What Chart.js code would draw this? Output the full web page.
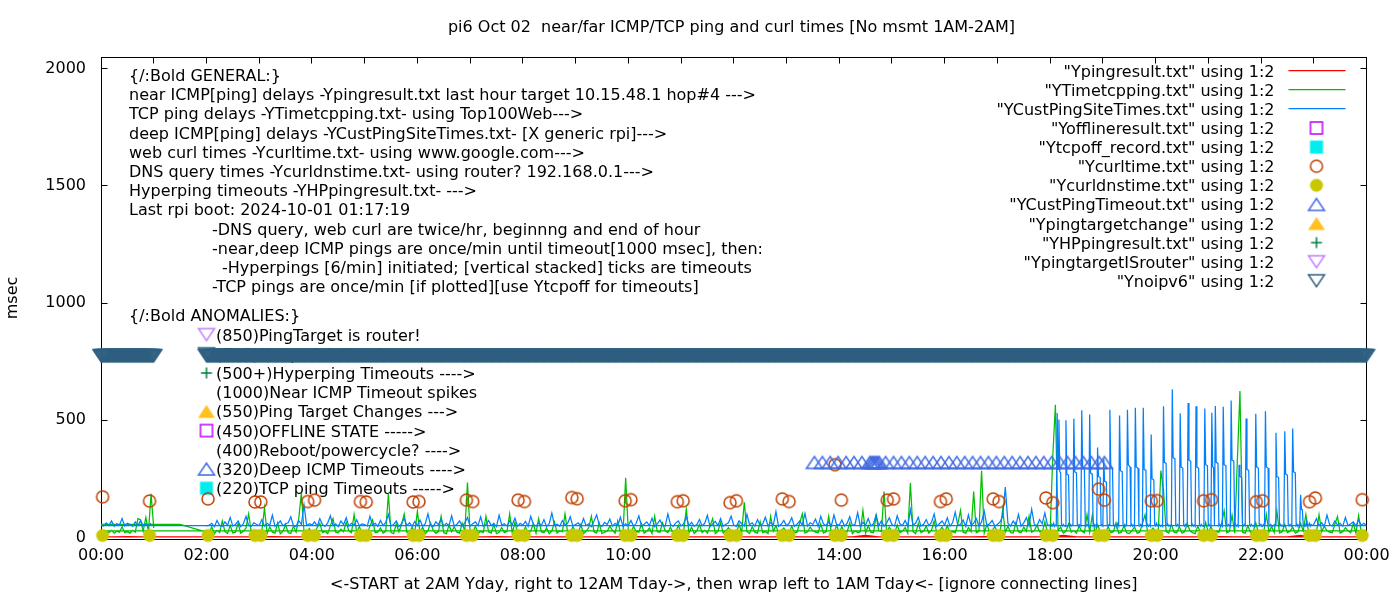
<!DOCTYPE html>
<html><head><meta charset="utf-8">
<script src="https://cdn.jsdelivr.net/npm/chart.js@4.4.1/dist/chart.umd.min.js"></script>
<style>html,body{margin:0;padding:0;background:#fff}canvas{display:block}</style>
</head><body>
<canvas id="c" width="1400" height="600"></canvas>
<script>
// ================= DATA =================
const titleText = 'pi6 Oct 02  near/far ICMP/TCP ping and curl times [No msmt 1AM-2AM]';
const xAxisTitle = '<-START at 2AM Yday, right to 12AM Tday->, then wrap left to 1AM Tday<- [ignore connecting lines]';
const yAxisTitle = 'msec';
const yTickValues = [0, 500, 1000, 1500, 2000];

const STEP_H = 0.05;          // 3-minute samples (hours)
const FINE_STEP_H = 1 / 60;   // 1-minute samples (hours)
const YDAY_START_H = 2;       // data starts 02:00 yesterday
const SPIKE_START_H = 18;     // 1-minute detail from 18:00
const LATE_START_H = 23;
const TODAY_START_H = 0;      // wraps to 00:00 today

// TCP ping delays (YTimetcpping.txt)
const tcpLeadTimes = [0, 1.5];
const tcpLeadValues = [55, 55];
const tcpYday = [
 22,18,45,15,30,20,70,24,16,52,19,22,60,18,26,40,100,22,30,18,
 20,24,126,16,45,22,18,62,15,25,55,20,17,48,22,80,190,24,16,38,
 22,18,42,60,20,25,16,50,80,22,19,35,24,65,28,20,97,22,46,18,
 24,16,48,75,20,22,40,18,25,186,20,16,58,24,55,100,22,18,44,20,
 111,20,44,16,28,62,30,18,25,90,20,16,52,24,45,22,18,60,26,234,
 22,18,48,16,25,20,90,24,18,56,16,22,42,20,26,100,18,64,20,28,
 20,45,16,28,58,18,80,24,20,40,16,26,66,18,28,24,100,20,18,46,
 22,18,54,16,26,42,90,24,18,60,16,22,26,48,30,18,70,22,16,254,
 28,20,46,24,22,58,18,26,40,16,90,24,22,62,28,20,44,16,24,52,
 20,26,120,18,44,16,28,56,20,30,18,48,80,16,26,64,18,28,42,24,
 22,18,56,20,150,24,16,46,22,18,68,20,24,16,90,26,50,18,28,40,
 24,18,48,20,22,60,100,18,24,44,28,22,20,58,18,24,90,22,16,52,
 20,46,18,24,62,16,28,20,24,115,18,50,22,20,92,28,24,196,18,44,
 24,18,54,20,26,42,18,232,24,16,60,20,26,48,18,30,70,20,26,44,
 22,50,18,24,20,58,115,22,18,42,24,196,20,26,284,18,56,22,28,46,
 24,18,120,22,48,20,18,62,24,20,44,26,90,22,28,52,24,20,66,22,
 20,345,566,30,44,18,26,58,22,28,18,48,26,20,97,22,95,18,54,24,
 22,18,46,20,24,62,18,22,50,20,16,28,44,18,22,58,97,20,24,40,
 26,20,285,203,24,18,56,22,20,46,18,24,60,28,20,16,48,22,18,64,
 20,46,18,24,22,58,114,20,26,95,18,324,625,22,18,50,20,24,62,22,
 24,18,97,22,46,20,113,18,24,56,20,26,44,18,24,60,28,97,22,18,
 26,20,97,24,48,28,22,20,56,89,18,24,42,28,20,60,18,93,22,26,
 28];
const tcpToday = [28,16,24,20,30,18,26,22,45,20,24,18,30,22,80,75,26,85,24,186,40];

// deep ICMP delays (YCustPingSiteTimes.txt)
const custYdayEarly = [   // 02:00 - 17:57, every 3 min
 48,52,60,45,72,50,47,66,52,85,48,55,70,46,58,90,50,47,62,55,
 50,76,48,60,52,95,47,56,70,49,58,62,88,50,46,72,55,138,50,58,
 52,66,48,80,55,47,62,92,50,58,46,70,54,84,48,60,52,75,49,57,
 55,48,90,52,60,47,72,50,64,98,48,55,70,46,58,82,50,62,47,68,
 50,74,47,58,100,52,46,66,54,80,48,60,50,92,47,56,70,49,62,85,
 48,58,66,50,88,47,55,72,50,60,46,95,52,58,48,70,54,82,47,60,
 52,68,47,90,55,48,62,50,76,46,58,104,50,56,47,72,53,60,88,48,
 55,62,48,80,50,58,46,70,96,52,47,64,55,78,48,60,50,86,47,58,
 50,72,47,60,92,48,56,66,50,82,46,58,74,52,48,100,55,47,62,70,
 48,58,88,50,64,47,55,76,49,60,94,46,57,68,50,80,47,56,62,90,
 52,47,70,58,48,98,54,62,47,76,50,58,86,48,64,52,110,47,56,72,
 50,60,84,47,56,70,52,102,48,62,55,78,47,90,58,50,66,48,95,55,
 52,74,48,60,88,50,56,106,47,64,52,80,49,58,96,50,70,47,62,84,
 55,48,92,58,50,72,47,118,53,60,86,48,56,76,50,64,100,47,58,70,
 52,84,48,62,108,50,56,74,47,96,52,60,80,48,66,112,50,58,72,48,
 55,66,90,215,60,48,70,52,98,47,62,84,50,120,56,48,76,58,104,52];
const custYdaySpikes = [  // 18:00 - 22:59, every minute
 52,48,55,50,60,47,52,50,531,290,
 503,280,275,52,48,55,50,47,500,270,
 268,265,50,55,48,52,60,506,280,278,
 275,50,47,55,52,48,542,300,298,295,
 52,48,55,50,47,524,275,272,270,50,
 55,48,52,47,383,260,258,255,50,52,
 48,335,240,238,235,52,48,55,545,300,
 298,295,50,47,55,52,48,60,50,520,
 285,282,280,52,48,55,47,52,545,310,
 305,300,50,55,48,52,47,553,300,298,
 295,52,48,55,50,47,553,290,288,285,
 50,55,48,52,47,439,250,248,245,52,
 48,60,52,47,55,50,48,52,47,559,
 320,318,315,50,55,48,52,47,55,632,
 340,338,335,52,48,55,50,47,530,300,
 298,295,52,48,55,50,47,573,330,328,
 325,50,55,48,52,47,560,300,298,295,
 52,48,55,50,47,52,550,310,308,305,
 50,55,48,52,532,300,298,52,561,320,
 318,315,50,55,48,52,47,557,310,308,
 305,52,48,55,50,47,584,330,328,325,
 50,55,48,52,47,310,260,258,255,52,
 48,55,50,507,290,288,285,52,48,55,
 50,47,52,48,528,300,298,295,50,55,
 48,52,47,55,50,538,300,298,295,52,
 48,55,50,47,52,48,55,446,260,258,
 255,50,55,48,52,47,50,453,270,268,
 265,52,48,55,50,47,465,280,278,275,
 50,55,48,52,47,182,120,118,52,48,
 55,50,70,48,52,60,47,55,50,52];
const custYdayLate = [    // 23:00 - 24:00, every 3 min
 56,80,50,62,47,95,55,48,70,52,60,47,85,50,58,66,48,75,52,60,
 50];
const custToday = [50,48,62,50,70,47,58,52,80,48,60,55,47,66,50,72,48,58,52,60];

// near ICMP delays (Ypingresult.txt), 15-minute samples
const NEAR_STEP_H = 0.25;
const nearYday = [
 2,2,2,2, 2,3,2,2, 2,2,2,2, 3,2,2,2, 2,2,2,2, 2,2,3,2, 2,2,2,2, 2,2,2,2,
 2,3,2,2, 2,2,2,2, 2,2,2,2, 3,2,2,2, 2,2,8,2, 2,2,2,2, 2,2,2,3, 2,2,2,2,
 2,8,2,2, 2,2,2,2, 2,2,2,2, 2,3,2,2, 2,2,2,8, 2,2,2,2, 2];
const nearToday = [2,2,3,2,2];

// web curl times (Ycurltime.txt) and DNS query times (Ycurldnstime.txt)
const curlTimes = [0.03,0.92, 2.03, 2.92,3.03, 3.92,4.05, 4.92,5.03, 5.92,6.03, 6.93,7.05,
  7.91,8.03, 8.93,9.03, 9.94,10.05, 10.93,11.04, 11.93,12.05, 12.92,13.05, 13.92,14.04,
  14.91,15.03, 15.92,16.03, 16.92,17.03, 17.92,18.05, 18.92,19.03, 19.92,20.03, 20.91,21.06,
  21.91,22.03, 22.92,23.03, 23.92];
const curlValues = [173,155, 164, 151,151, 153,159, 153,151, 151,153, 159,153,
  159,153, 170,165, 156,161, 152,156, 148,156, 164,153, 310,159,
  159,164, 153,164, 164,153, 168,148, 206,159, 156,157, 156,161,
  152,156, 152,168, 161];
const dnsTimes = curlTimes;
const dnsValues = [8,8, 8, 8,8, 8,8, 8,8, 8,8, 8,8, 8,8, 8,8, 8,8, 8,8, 8,8, 8,8, 8,8,
  8,8, 8,8, 8,8, 8,8, 8,8, 8,8, 8,8, 8,8, 8,8, 8];

// deep ICMP timeouts (YCustPingTimeout.txt)
const deepTimeoutTimes = [13.53,13.68,13.83,13.98,14.13,14.28,14.43,14.58,14.61,14.64,14.67,14.70,
  14.73,14.76,14.88,15.03,15.18,15.33,15.48,15.63,15.78,15.93,16.08,16.23,16.38,16.53,16.68,
  16.83,16.98,17.13,17.28,17.43,17.58,17.73,17.88,18.03,18.18,18.33,18.48,18.63,18.78,18.93,19.03];
const deepTimeoutValues = [320,320,320,320,320,320,320,320,320,320,320,320,320,320,320,320,320,
  320,320,320,320,320,320,320,320,320,320,320,320,320,320,320,320,320,320,320,320,320,320,320,
  320,320,320];

// no ipv6 (Ynoipv6): once-a-minute records over these spans (hours)
const noipv6Runs = [[0.0, 1.0], [2.0, 24.0]];
const noipv6Value = 775;

// ================= TEXT =================
const generalText = [
  '{/:Bold GENERAL:}',
  'near ICMP[ping] delays -Ypingresult.txt last hour target 10.15.48.1 hop#4 --->',
  'TCP ping delays -YTimetcpping.txt- using Top100Web--->',
  'deep ICMP[ping] delays -YCustPingSiteTimes.txt- [X generic rpi]--->',
  'web curl times -Ycurltime.txt- using www.google.com--->',
  'DNS query times -Ycurldnstime.txt- using router? 192.168.0.1--->',
  'Hyperping timeouts -YHPpingresult.txt- --->',
  'Last rpi boot: 2024-10-01 01:17:19',
  '-DNS query, web curl are twice/hr, beginnng and end of hour',
  '-near,deep ICMP pings are once/min until timeout[1000 msec], then:',
  '-Hyperpings [6/min] initiated; [vertical stacked] ticks are timeouts',
  '-TCP pings are once/min [if plotted][use Ytcpoff for timeouts]'
];
const anomalyTitle = '{/:Bold ANOMALIES:}';
const anomalyItems = [
  ['(850)PingTarget is router!', 'YpingtargetISrouter'],
  ['(725)No ipv6 fallback --->', 'Ynoipv6'],
  ['(500+)Hyperping Timeouts ---->', 'YHPpingresult'],
  ['(1000)Near ICMP Timeout spikes', null],
  ['(550)Ping Target Changes --->', 'Ypingtargetchange'],
  ['(450)OFFLINE STATE ----->', 'Yofflineresult'],
  ['(400)Reboot/powercycle? ---->', null],
  ['(320)Deep ICMP Timeouts ---->', 'YCustPingTimeout'],
  ['(220)TCP ping Timeouts ----->', 'Ytcpoff']
];

// ================= BUILD =================
const FONT = "'DejaVu Sans', 'Liberation Sans', sans-serif";
function grid(startH, stepH, vals) { return vals.map((v, i) => ({x: +(startH + i * stepH).toFixed(5), y: v})); }
function pairs(ts, vs) { return ts.map((t, i) => ({x: t, y: vs[i]})); }
function runs(rs, v) { const out = []; rs.forEach(([a, b]) => { for (let m = Math.round(a * 60); m <= Math.round(b * 60); m++) out.push({x: m / 60, y: v}); }); return out; }

function marker(kind, color) {
  const c = document.createElement('canvas'); c.width = 20; c.height = 16;
  const g = c.getContext('2d'); g.strokeStyle = color; g.fillStyle = color; g.lineWidth = 1.5;
  const cx = 10, cy = 8; g.beginPath();
  if (kind === 'circleOpen') { g.arc(cx, cy, 6, 0, Math.PI * 2); g.stroke(); }
  else if (kind === 'circleFilled') { g.arc(cx, cy, 6.5, 0, Math.PI * 2); g.fill(); }
  else if (kind === 'squareOpen') { g.rect(cx - 6, cy - 6, 12, 12); g.stroke(); }
  else if (kind === 'squareFilled') { g.rect(cx - 6.5, cy - 6.5, 13, 13); g.fill(); }
  else if (kind === 'triUpOpen') { g.moveTo(cx - 8, cy + 6); g.lineTo(cx + 8, cy + 6); g.lineTo(cx, cy - 6); g.closePath(); g.stroke(); }
  else if (kind === 'triUpFilled') { g.moveTo(cx - 8.5, cy + 6.5); g.lineTo(cx + 8.5, cy + 6.5); g.lineTo(cx, cy - 6.5); g.closePath(); g.fill(); }
  else if (kind === 'triDownOpen') { g.moveTo(cx - 8, cy - 6); g.lineTo(cx + 8, cy - 6); g.lineTo(cx, cy + 6); g.closePath(); g.stroke(); }
  else if (kind === 'plus') { g.moveTo(cx - 5.5, cy); g.lineTo(cx + 5.5, cy); g.moveTo(cx, cy - 5.5); g.lineTo(cx, cy + 5.5); g.stroke(); }
  return c;
}

function lineDs(label, key, color, data, order) {
  return {label, key, kind: 'line', data, borderColor: color, backgroundColor: color, borderWidth: 1.25,
    pointRadius: 0, showLine: true, tension: 0, order};
}
function pointDs(label, key, kind, color, data, order) {
  const img = marker(kind, color);
  return {label, key, kind, img, data, pointStyle: img, pointRadius: 8, pointHoverRadius: 8,
    borderColor: color, backgroundColor: color, showLine: false, clip: false, order};
}

const datasets = [
  lineDs('"Ypingresult.txt" using 1:2', 'Ypingresult', '#ff0000',
    [...grid(YDAY_START_H, NEAR_STEP_H, nearYday), ...grid(TODAY_START_H, NEAR_STEP_H, nearToday)], 12),
  lineDs('"YTimetcpping.txt" using 1:2', 'YTimetcpping', '#00c000',
    [...pairs(tcpLeadTimes, tcpLeadValues), ...grid(YDAY_START_H, STEP_H, tcpYday), ...grid(TODAY_START_H, STEP_H, tcpToday)], 11),
  lineDs('"YCustPingSiteTimes.txt" using 1:2', 'YCustPingSiteTimes', '#0080ff',
    [...grid(YDAY_START_H, STEP_H, custYdayEarly), ...grid(SPIKE_START_H, FINE_STEP_H, custYdaySpikes),
     ...grid(LATE_START_H, STEP_H, custYdayLate), ...grid(TODAY_START_H, STEP_H, custToday)], 10),
  pointDs('"Yofflineresult.txt" using 1:2', 'Yofflineresult', 'squareOpen', '#c000ff', [], 9),
  pointDs('"Ytcpoff_record.txt" using 1:2', 'Ytcpoff', 'squareFilled', '#00eeee', [], 8),
  pointDs('"Ycurltime.txt" using 1:2', 'Ycurltime', 'circleOpen', '#c04000', pairs(curlTimes, curlValues), 7),
  pointDs('"Ycurldnstime.txt" using 1:2', 'Ycurldnstime', 'circleFilled', '#c8c800', pairs(dnsTimes, dnsValues), 6),
  pointDs('"YCustPingTimeout.txt" using 1:2', 'YCustPingTimeout', 'triUpOpen', '#4169e1', pairs(deepTimeoutTimes, deepTimeoutValues), 5),
  pointDs('"Ypingtargetchange" using 1:2', 'Ypingtargetchange', 'triUpFilled', '#ffc020', [], 4),
  pointDs('"YHPpingresult.txt" using 1:2', 'YHPpingresult', 'plus', '#008040', [], 3),
  pointDs('"YpingtargetISrouter" using 1:2', 'YpingtargetISrouter', 'triDownOpen', '#c080ff', [], 2),
  pointDs('"Ynoipv6" using 1:2', 'Ynoipv6', 'triDownOpen', '#306080', runs(noipv6Runs, noipv6Value), 1)
];

const GENERAL_INDENT = [0,0,0,0,0,0,0,0,83,83,93,83];

const decor = {
  id: 'gnuplotDecor',
  beforeDatasetsDraw(chart) {
    const {ctx, chartArea: a, scales: {x, y}} = chart;
    ctx.save();
    // border and inward tics (both sides)
    ctx.strokeStyle = '#000'; ctx.lineWidth = 1;
    const L = Math.floor(a.left) + 0.5, R = Math.floor(a.right) + 0.5, T = Math.floor(a.top) + 0.5, B = Math.floor(a.bottom) + 0.5;
    ctx.strokeRect(L, T, R - L, B - T);
    ctx.beginPath();
    for (let h = 0; h <= 24; h++) {
      const px = Math.floor(x.getPixelForValue(h)) + 0.5;
      ctx.moveTo(px, B); ctx.lineTo(px, B - 6);
      ctx.moveTo(px, T); ctx.lineTo(px, T + 6);
    }
    yTickValues.forEach(v => {
      const py = Math.floor(y.getPixelForValue(v)) + 0.5;
      ctx.moveTo(L, py); ctx.lineTo(L + 6, py);
      ctx.moveTo(R, py); ctx.lineTo(R - 6, py);
    });
    ctx.stroke();
    // labels (drawn behind the data, like gnuplot labels)
    ctx.fillStyle = '#000'; ctx.font = '16px ' + FONT; ctx.textAlign = 'left'; ctx.textBaseline = 'alphabetic';
    generalText.forEach((t, i) => ctx.fillText(t, a.left + 28 + GENERAL_INDENT[i], 81 + 19.2 * i));
    ctx.fillText(anomalyTitle, a.left + 28, 321.4);
    anomalyItems.forEach(([t, key], i) => {
      const cy = 334.6 + 19.2 * i;
      ctx.fillText(t, a.left + 115, cy + 6);
      if (key) {
        const ds = chart.data.datasets.find(d => d.key === key);
        if (ds && ds.img) ctx.drawImage(ds.img, a.left + 105.5 - 10, cy - 8);
      }
    });
    ctx.restore();
  },
  afterDraw(chart) {
    const {ctx, chartArea: a} = chart;
    ctx.save();
    ctx.fillStyle = '#000'; ctx.font = '16px ' + FONT; ctx.textBaseline = 'alphabetic';
    ctx.textAlign = 'center';
    ctx.fillText(titleText, 731.5, 32);
    ctx.fillText(xAxisTitle, (a.left + a.right) / 2, 589);
    ctx.save(); ctx.translate(17, 298); ctx.rotate(-Math.PI / 2); ctx.fillText(yAxisTitle, 0, 0); ctx.restore();
    // key (gnuplot style: right-aligned text, sample on the right)
    chart.data.datasets.forEach((ds, i) => {
      const cy = 70.7 + 19.1 * i;
      ctx.textAlign = 'right'; ctx.fillStyle = '#000';
      ctx.fillText(ds.label, a.right - 92, cy + 6);
      if (ds.kind === 'line') {
        ctx.strokeStyle = ds.borderColor; ctx.lineWidth = 1.25;
        ctx.beginPath(); ctx.moveTo(a.right - 78, Math.floor(cy) + 0.5); ctx.lineTo(a.right - 21, Math.floor(cy) + 0.5); ctx.stroke();
      } else {
        ctx.drawImage(ds.img, a.right - 50 - 10, cy - 8);
      }
    });
    ctx.restore();
  }
};

Chart.defaults.font.family = FONT;
Chart.defaults.font.size = 16;
Chart.defaults.color = '#000';

new Chart(document.getElementById('c'), {
  type: 'scatter',
  data: {datasets},
  plugins: [decor],
  options: {
    responsive: false, animation: false, events: [],
    layout: {padding: {top: 57, right: 33.5, left: 0, bottom: 0}},
    plugins: {legend: {display: false}, tooltip: {enabled: false}, title: {display: false}},
    scales: {
      x: {type: 'linear', min: 0, max: 24,
        grid: {display: false, drawTicks: false}, border: {display: false},
        ticks: {stepSize: 2, autoSkip: false, maxRotation: 0, padding: 7,
          callback: v => String(v % 24).padStart(2, '0') + ':00'},
        afterFit: s => { s.height = 61; }},
      y: {type: 'linear', min: -7, max: 2050,
        grid: {display: false, drawTicks: false}, border: {display: false},
        afterBuildTicks: s => { s.ticks = yTickValues.map(v => ({value: v})); },
        ticks: {padding: 15, callback: v => String(v)},
        afterFit: s => { s.width = 101; }}
    }
  }
});
</script>
</body></html>
